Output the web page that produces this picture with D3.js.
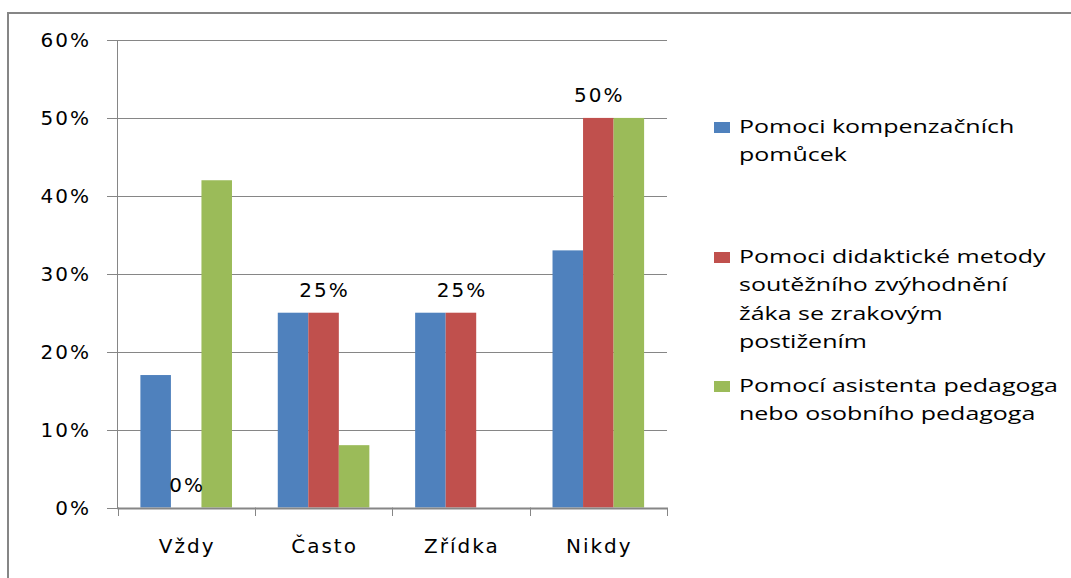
<!DOCTYPE html>
<html>
<head>
<meta charset="utf-8">
<script src="https://cdn.jsdelivr.net/npm/d3@7"></script>
<style>
  body { margin: 0; background: #fff; }
  svg { display: block; }
</style>
</head>
<body>
<div id="chart"></div>
<script>
// data
var categories = ["Vždy", "Často", "Zřídka", "Nikdy"];
var seriesNames = ["Pomoci kompenzačních pomůcek",
                   "Pomoci didaktické metody soutěžního zvýhodnění žáka se zrakovým postižením",
                   "Pomocí asistenta pedagoga nebo osobního pedagoga"];
var blueValues  = [17, 25, 25, 33];
var redValues   = [0, 25, 25, 50];
var greenValues = [42, 8, 0, 50];
var yTicks = [0, 10, 20, 30, 40, 50, 60];
// legend text as wrapped in the picture
var legendLines = [["Pomoci kompenzačních", "pomůcek"],
                   ["Pomoci didaktické metody", "soutěžního zvýhodnění", "žáka se zrakovým", "postižením"],
                   ["Pomocí asistenta pedagoga", "nebo osobního pedagoga"]];

var colors = ["#4F81BD", "#C0504D", "#9BBB59"];
var allSeries = [blueValues, redValues, greenValues];

var W = 1071, H = 578;
var svg = d3.select("#chart").append("svg")
  .attr("width", W).attr("height", H);

// outer frame
svg.append("rect")
  .attr("x", 8).attr("y", 13)
  .attr("width", W + 20).attr("height", H + 20)
  .attr("fill", "none").attr("stroke", "#868686").attr("stroke-width", 2);

var pLeft = 117.5, pRight = 667, pTop = 40, pBottom = 507.5;

var x = d3.scaleBand().domain(categories).range([pLeft, pRight]).paddingInner(0).paddingOuter(0);
var x1 = d3.scaleBand().domain([0, 1, 2]).range([0, x.bandwidth()]).paddingOuter(0.75).paddingInner(0);
var y = d3.scaleLinear().domain([0, 60]).range([pBottom, pTop]);

// gridlines + left ticks
svg.append("g").selectAll("line").data(yTicks).enter().append("line")
  .attr("x1", 107).attr("x2", pRight)
  .attr("y1", d => Math.round(y(d)) + 0.5).attr("y2", d => Math.round(y(d)) + 0.5)
  .attr("stroke", "#868686").attr("stroke-width", 1);

// y labels
svg.append("g").selectAll("text").data(yTicks).enter().append("text")
  .attr("x", 91).attr("y", d => y(d)).attr("dy", "0.36em")
  .attr("text-anchor", "end")
  .style("font-family", "DejaVu Sans").style("font-size", "20px").style("letter-spacing", "2px")
  .attr("fill", "#000")
  .text(d => d + "%");

// bars
var rows = categories.map((c, i) => ({cat: c, vals: allSeries.map(s => s[i])}));
var groups = svg.append("g").selectAll("g").data(rows).enter().append("g")
  .attr("transform", d => "translate(" + x(d.cat) + ",0)");
groups.selectAll("rect").data(d => d.vals.map((v, k) => ({k: k, v: v}))).enter().append("rect")
  .attr("x", d => x1(d.k)).attr("width", x1.bandwidth())
  .attr("y", d => y(d.v)).attr("height", d => pBottom - y(d.v))
  .attr("fill", d => colors[d.k]);

// y axis line
svg.append("line")
  .attr("x1", pLeft).attr("x2", pLeft).attr("y1", pTop).attr("y2", pBottom + 1)
  .attr("stroke", "#868686");

// x axis line and ticks
svg.append("line")
  .attr("x1", pLeft).attr("x2", pRight).attr("y1", Math.round(pBottom) + 0.5).attr("y2", Math.round(pBottom) + 0.5)
  .attr("stroke", "#868686").attr("stroke-width", 2);
var bounds = categories.map(c => x(c)).concat([pRight]);
svg.append("g").selectAll("line").data(bounds).enter().append("line")
  .attr("x1", d => Math.round(d) + 0.5).attr("x2", d => Math.round(d) + 0.5)
  .attr("y1", pBottom).attr("y2", 516)
  .attr("stroke", "#868686");

// category labels
svg.append("g").selectAll("text").data(categories).enter().append("text")
  .attr("x", d => x(d) + x.bandwidth() / 2 + 1).attr("y", 553)
  .attr("text-anchor", "middle")
  .style("font-family", "DejaVu Sans").style("font-size", "20px").style("letter-spacing", "2px")
  .attr("fill", "#000")
  .text(d => d);

// data labels for the red series
svg.append("g").selectAll("text").data(redValues).enter().append("text")
  .attr("x", (d, i) => x(categories[i]) + x1(1) + x1.bandwidth() / 2 + 1)
  .attr("y", d => y(d) - 16)
  .attr("text-anchor", "middle")
  .style("font-family", "DejaVu Sans").style("font-size", "20px").style("letter-spacing", "2px")
  .attr("fill", "#000")
  .text(d => d + "%");

// legend
var legendTop = [133, 263, 392], lineH = 28.5;
var legend = svg.append("g");
legendLines.forEach(function(lines, k) {
  legend.append("rect")
    .attr("x", 714).attr("y", legendTop[k] - 11)
    .attr("width", 16).attr("height", 11)
    .attr("fill", colors[k]);
  lines.forEach(function(t, j) {
    legend.append("text")
      .attr("class", "leg")
      .attr("x", 0).attr("y", legendTop[k] + j * lineH)
      .style("font-family", "Open Sans").style("font-size", "18px")
      .attr("fill", "#000")
      .text(t);
  });
});
// stretch legend text to the width seen in the picture
var ref = legend.selectAll("text.leg").filter(function() { return this.textContent === "Pomocí asistenta pedagoga"; }).node();
var sx = 319 / ref.getComputedTextLength();
legend.selectAll("text.leg").attr("transform", "translate(739,0) scale(" + sx + ",1)");
</script>
</body>
</html>
